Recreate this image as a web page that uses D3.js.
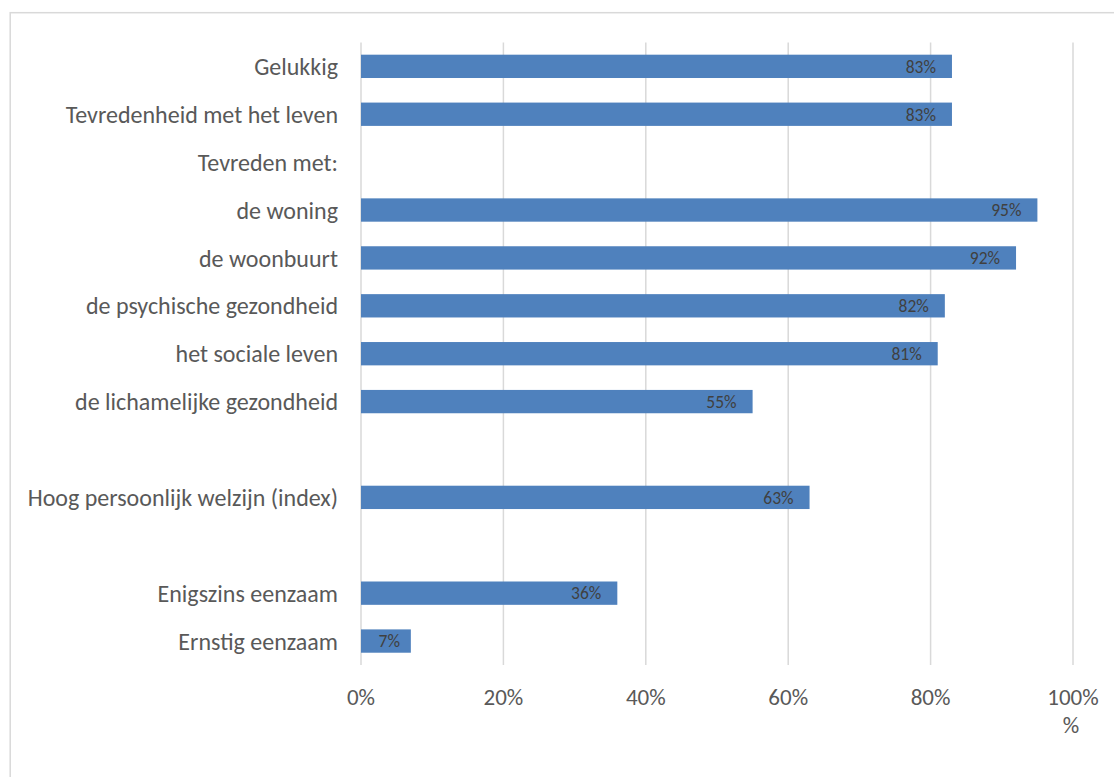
<!DOCTYPE html>
<html>
<head>
<meta charset="utf-8">
<script src="https://cdn.jsdelivr.net/npm/d3@7"></script>
<style>
  html, body { margin: 0; padding: 0; background: #fff; }
  svg { display: block; font-family: Carlito, Calibri, Lato, "Open Sans", sans-serif; }
</style>
</head>
<body>
<svg id="chart" width="1114" height="777"></svg>
<script>
// ---- data ----
const categories = [
  "Gelukkig",
  "Tevredenheid met het leven",
  "Tevreden met:",
  "de woning",
  "de woonbuurt",
  "de psychische gezondheid",
  "het sociale leven",
  "de lichamelijke gezondheid",
  "",
  "Hoog persoonlijk welzijn (index)",
  "",
  "Enigszins eenzaam",
  "Ernstig eenzaam"
];
const values = [83, 83, null, 95, 92, 82, 81, 55, null, 63, null, 36, 7];
const tickValues = [0, 20, 40, 60, 80, 100];
// last tick label wraps onto a second line in the original ("100%" / "%")
const tickLabels = [["0%"], ["20%"], ["40%"], ["60%"], ["80%"], ["100%", "%"]];

// ---- layout ----
const svg = d3.select("#chart");
const plotLeft = 361, plotRight = 1073, plotTop = 42.4, plotBottom = 665;

const rows = categories.map((c, i) => ({ key: i, label: c, value: values[i] }));

const x = d3.scaleLinear().domain([0, 100]).range([plotLeft, plotRight]);
const y = d3.scaleBand().domain(rows.map(d => d.key)).range([plotTop, plotBottom])
  .paddingInner(0.513).paddingOuter(0.2565);

// outer chart border
svg.append("rect")
  .attr("x", 10.2).attr("y", 12.7)
  .attr("width", 1200).attr("height", 900)
  .attr("fill", "none").attr("stroke", "#d9d9d9").attr("stroke-width", 1.5);

// gridlines
svg.append("g").selectAll("line").data(tickValues).join("line")
  .attr("x1", d => x(d)).attr("x2", d => x(d))
  .attr("y1", plotTop).attr("y2", plotBottom)
  .attr("stroke", "#d9d9d9").attr("stroke-width", 1.5);

// bars
const barRows = rows.filter(d => d.value !== null);
svg.append("g").selectAll("rect").data(barRows).join("rect")
  .attr("x", x(0))
  .attr("y", d => y(d.key))
  .attr("width", d => x(d.value) - x(0))
  .attr("height", y.bandwidth())
  .attr("fill", "#4f81bd");

// data labels (inside end)
svg.append("g").selectAll("text").data(barRows).join("text")
  .attr("x", d => Math.max(x(d.value) - 16, x(0) + 39))
  .attr("y", d => y(d.key) + y.bandwidth() / 2)
  .attr("dy", "0.36em")
  .attr("text-anchor", "end")
  .attr("fill", "#404040")
  .attr("font-size", 17.5)
  .text(d => d.value + "%");

// category labels
svg.append("g").selectAll("text").data(rows.filter(d => d.label !== "")).join("text")
  .attr("x", 338)
  .attr("y", d => y(d.key) + y.bandwidth() / 2)
  .attr("dy", "0.36em")
  .attr("text-anchor", "end")
  .attr("fill", "#595959")
  .attr("font-size", 24)
  .text(d => d.label);

// x tick labels
const xt = svg.append("g");
xt.selectAll("text").data(tickValues).join("text")
  .attr("y", 697)
  .attr("text-anchor", "middle")
  .attr("fill", "#595959")
  .attr("font-size", 23)
  .each(function (d, i) {
    const t = d3.select(this);
    tickLabels[i].forEach((line, j) => {
      t.append("tspan")
        .attr("x", x(d) - (j > 0 ? 2 : 0))
        .attr("dy", j === 0 ? "0.36em" : 28)
        .text(line);
    });
  });
</script>
</body>
</html>
